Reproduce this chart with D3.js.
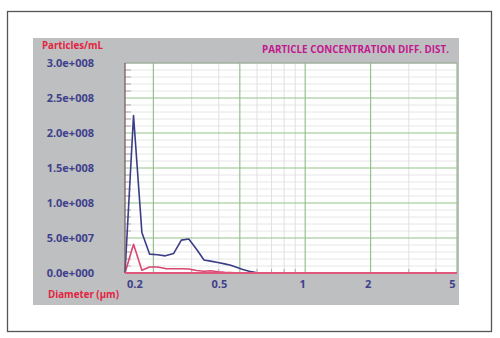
<!DOCTYPE html>
<html>
<head>
<meta charset="utf-8">
<script src="https://cdn.jsdelivr.net/npm/d3@7"></script>
<style>
  body { margin: 0; background: #fff; }
  svg { display: block; font-family: "Open Sans", "Noto Sans", sans-serif; }
</style>
</head>
<body>
<svg id="chart" width="500" height="338"></svg>
<script>
// diameter bins (µm) and the two concentration series (particles/mL)
const diameters = [0.148, 0.162, 0.177, 0.192, 0.209, 0.227, 0.248, 0.269, 0.291, 0.316,
  0.342, 0.367, 0.396, 0.426, 0.454, 0.490, 0.516, 0.552, 0.593, 0.639, 0.774];
const blueSeries = [0, 2.25e8, 5.8e7, 2.7e7, 2.6e7, 2.45e7, 2.8e7, 4.7e7, 4.85e7, 3.4e7,
  1.85e7, 1.7e7, 1.5e7, 1.3e7, 1.1e7, 7.5e6, 5e6, 2.5e6, 5e5, 0, 0];
const redSeries = [0, 4.1e7, 4e6, 8.5e6, 8.5e6, 6.3e6, 6e6, 6e6, 5.7e6, 3.5e6,
  2.6e6, 3.3e6, 1.8e6, 1e6, 5e5, 0, 0, 0, 0, 0, 0];

const xMajor = [0.2, 0.5, 1, 2, 5];
const xMinor = [0.3, 0.4, 0.6, 0.7, 0.8, 0.9, 3, 4];
const yTicks = [0, 5e7, 1e8, 1.5e8, 2e8, 2.5e8, 3e8];
const yTickLabels = ['0.0e+000', '5.0e+007', '1.0e+008', '1.5e+008', '2.0e+008', '2.5e+008', '3.0e+008'];
const title = 'PARTICLE CONCENTRATION DIFF. DIST.';
const yTitle = 'Particles/mL';
const xTitle = 'Diameter (µm)';

const svg = d3.select('#chart');

const plot = { left: 125, top: 63, right: 457, bottom: 273 };

const x = d3.scaleLog().domain([0.148, 5]).range([plot.left, plot.right]);
const y = d3.scaleLinear().domain([0, 3e8]).range([plot.bottom, plot.top]);

// outer frame
svg.append('rect')
  .attr('x', 7.5).attr('y', 11.5)
  .attr('width', 484).attr('height', 320)
  .attr('fill', '#fff')
  .attr('stroke', '#555')
  .attr('stroke-width', 1.3);

// grey panel
svg.append('rect')
  .attr('x', 33).attr('y', 38)
  .attr('width', 426).attr('height', 267)
  .attr('fill', '#bdbfc1');

// plot background
svg.append('rect')
  .attr('x', plot.left).attr('y', plot.top)
  .attr('width', plot.right - plot.left).attr('height', plot.bottom - plot.top)
  .attr('fill', '#fff');

// minor horizontal grid every 1e7
const yMinor = d3.range(1e7, 3e8, 1e7).filter(v => v % 5e7 !== 0);
svg.append('g').selectAll('line')
  .data(yMinor)
  .enter().append('line')
  .attr('x1', plot.left).attr('x2', plot.right)
  .attr('y1', d => y(d)).attr('y2', d => y(d))
  .attr('stroke', '#e6e6e6')
  .attr('stroke-width', 1);

// minor vertical grid
svg.append('g').selectAll('line')
  .data(xMinor)
  .enter().append('line')
  .attr('x1', d => x(d)).attr('x2', d => x(d))
  .attr('y1', plot.top).attr('y2', plot.bottom)
  .attr('stroke', '#e0e0e0')
  .attr('stroke-width', 1);

// little tick marks along the left edge
svg.append('g').selectAll('line')
  .data(yMinor)
  .enter().append('line')
  .attr('x1', plot.left).attr('x2', plot.left + 6)
  .attr('y1', d => y(d)).attr('y2', d => y(d))
  .attr('stroke', '#a8a8a8')
  .attr('stroke-width', 1);

// little tick marks along the bottom edge
svg.append('g').selectAll('line')
  .data(xMinor)
  .enter().append('line')
  .attr('x1', d => x(d)).attr('x2', d => x(d))
  .attr('y1', plot.bottom).attr('y2', plot.bottom - 4)
  .attr('stroke', '#a8a8a8')
  .attr('stroke-width', 1);

// major grid (green)
svg.append('g').selectAll('line')
  .data(yTicks.filter(v => v > 0))
  .enter().append('line')
  .attr('x1', plot.left).attr('x2', plot.right)
  .attr('y1', d => y(d)).attr('y2', d => y(d))
  .attr('stroke', '#93c28c')
  .attr('stroke-width', 1.2);

svg.append('g').selectAll('line')
  .data(xMajor)
  .enter().append('line')
  .attr('x1', d => x(d)).attr('x2', d => x(d))
  .attr('y1', plot.top).attr('y2', plot.bottom)
  .attr('stroke', '#93c28c')
  .attr('stroke-width', 1.2);

// top border of plot
svg.append('line')
  .attr('x1', plot.left).attr('x2', plot.right)
  .attr('y1', plot.top).attr('y2', plot.top)
  .attr('stroke', '#a8a8a8');

// series
const pts = s => diameters.map((d, i) => [d, s[i]]);
const line = d3.line().x(d => x(d[0])).y(d => y(d[1]));

svg.append('path')
  .datum(pts(redSeries))
  .attr('d', line)
  .attr('fill', 'none')
  .attr('stroke', '#d8476f')
  .attr('stroke-width', 1.6)
  .attr('stroke-linejoin', 'round');

svg.append('path')
  .datum(pts(blueSeries))
  .attr('d', line)
  .attr('fill', 'none')
  .attr('stroke', '#3b3d86')
  .attr('stroke-width', 1.6)
  .attr('stroke-linejoin', 'round');

// axis lines
svg.append('line')
  .attr('x1', plot.left).attr('x2', plot.left)
  .attr('y1', plot.top).attr('y2', plot.bottom)
  .attr('stroke', '#7d5f63')
  .attr('stroke-width', 1.3);

svg.append('line')
  .attr('x1', plot.left).attr('x2', plot.right)
  .attr('y1', plot.bottom).attr('y2', plot.bottom)
  .attr('stroke', '#e0587c')
  .attr('stroke-width', 2);

// y tick labels
const yAxis = d3.axisLeft(y)
  .tickValues(yTicks)
  .tickFormat((d, i) => yTickLabels[i])
  .tickSize(0)
  .tickPadding(0);

const gy = svg.append('g')
  .attr('transform', 'translate(94,0)')
  .call(yAxis);
gy.select('.domain').remove();
gy.selectAll('text')
  .attr('fill', '#3f418c')
  .style('font-size', '11px')
  .style('font-weight', 'bold')
  .style('font-family', '"Open Sans", sans-serif');

// x tick labels (they sit a bit left of their grid lines in the original)
const xLabelShift = [-19, -21, -3, -3, -5];
const xAxis = d3.axisBottom(x)
  .tickValues(xMajor)
  .tickFormat(d3.format('~g'))
  .tickSize(0)
  .tickPadding(7);

const gx = svg.append('g')
  .attr('transform', `translate(0,${plot.bottom})`)
  .call(xAxis);
gx.select('.domain').remove();
gx.selectAll('text')
  .attr('dx', (d, i) => xLabelShift[i])
  .attr('fill', '#3f418c')
  .style('font-size', '11px')
  .style('font-weight', 'bold')
  .style('font-family', '"Open Sans", sans-serif');

// titles
svg.append('text')
  .attr('x', 42).attr('y', 49)
  .attr('fill', '#e3243f')
  .attr('textLength', 61)
  .attr('lengthAdjust', 'spacingAndGlyphs')
  .style('font-size', '11px')
  .style('font-weight', 'bold')
  .text(yTitle);

svg.append('text')
  .attr('x', 48).attr('y', 298)
  .attr('fill', '#e3243f')
  .attr('textLength', 71)
  .attr('lengthAdjust', 'spacingAndGlyphs')
  .style('font-size', '11px')
  .style('font-weight', 'bold')
  .text(xTitle);

svg.append('text')
  .attr('x', 262).attr('y', 53)
  .attr('fill', '#c3188e')
  .attr('textLength', 187)
  .attr('lengthAdjust', 'spacingAndGlyphs')
  .style('font-size', '10.5px')
  .style('font-weight', 'bold')
  .text(title);
</script>
</body>
</html>
